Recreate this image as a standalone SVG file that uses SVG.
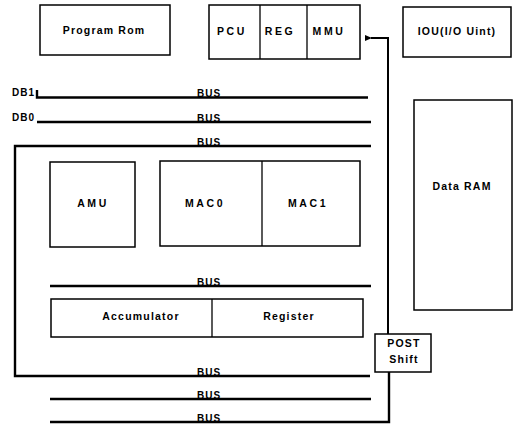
<svg xmlns="http://www.w3.org/2000/svg" width="524" height="427" viewBox="0 0 524 427">
<defs>
<style>
.box{fill:#fff;stroke:#000;stroke-width:1.5}
.div{stroke:#000;stroke-width:1.3}
.bus{fill:none;stroke:#000;stroke-width:2.4}
.wire{fill:none;stroke:#000;stroke-width:2}
text{font-family:"Liberation Sans",Arial,sans-serif;font-weight:bold;font-size:10.5px;letter-spacing:1.2px;fill:#000;text-anchor:middle}
.bl{font-size:10px;letter-spacing:1px}
.wide{letter-spacing:2.6px}
</style>
<marker id="ah" markerWidth="7" markerHeight="6" refX="1" refY="3" orient="auto" markerUnits="userSpaceOnUse">
<path d="M7,0 L0,3 L7,6 Z" fill="#000"/>
</marker>
</defs>
<rect width="524" height="427" fill="#fff"/>

<g id="connectors">
<path class="bus" d="M37,90 V97.5 H368"/>
<path class="bus" d="M37,122 H371"/>
<path class="bus" d="M371,146 H15 V376 H370"/>
<path class="bus" d="M50,286 H371"/>
<path class="bus" d="M50,399 H371"/>
<path class="bus" d="M50,422 H389 V372"/>
<path class="wire" d="M388,334 V38 H371" marker-end="url(#ah)"/>
<text class="bl" x="12" y="96" style="text-anchor:start">DB1</text>
<text class="bl" x="12" y="121" style="text-anchor:start">DB0</text>
<text class="bl" x="209" y="97">BUS</text>
<text class="bl" x="209" y="121.5">BUS</text>
<text class="bl" x="209" y="145.5">BUS</text>
<text class="bl" x="209" y="285.5">BUS</text>
<text class="bl" x="209" y="375.5">BUS</text>
<text class="bl" x="209" y="398.5">BUS</text>
<text class="bl" x="209" y="421.5">BUS</text>
</g>

<g id="program-rom">
<rect class="box" x="40" y="5" width="130" height="50"/>
<text x="104" y="34">Program Rom</text>
</g>

<g id="pcu-reg-mmu">
<rect class="box" x="209" y="5" width="151" height="54"/>
<line class="div" x1="260" y1="5" x2="260" y2="59"/>
<line class="div" x1="307" y1="5" x2="307" y2="59"/>
<text x="232" y="35" class="wide">PCU</text>
<text x="280" y="35" class="wide">REG</text>
<text x="329" y="35" class="wide">MMU</text>
</g>

<g id="iou">
<rect class="box" x="403" y="7" width="108" height="50"/>
<text x="457" y="35">IOU(I/O Uint)</text>
</g>

<g id="data-ram">
<rect class="box" x="414" y="100" width="98" height="210"/>
<text x="462" y="190">Data RAM</text>
</g>

<g id="amu">
<rect class="box" x="50" y="162" width="85" height="85"/>
<text x="93" y="207" class="wide">AMU</text>
</g>

<g id="mac">
<rect class="box" x="160" y="161" width="200" height="85"/>
<line class="div" x1="262" y1="161" x2="262" y2="246"/>
<text x="205" y="207" class="wide">MAC0</text>
<text x="308" y="207" class="wide">MAC1</text>
</g>

<g id="acc-reg">
<rect class="box" x="51" y="299" width="312" height="38"/>
<line class="div" x1="212" y1="299" x2="212" y2="337"/>
<text x="141" y="320">Accumulator</text>
<text x="289" y="320">Register</text>
</g>

<g id="post-shift">
<rect class="box" x="375" y="334" width="56" height="38"/>
<text x="404" y="347">POST</text>
<text x="404" y="363">Shift</text>
</g>
</svg>
